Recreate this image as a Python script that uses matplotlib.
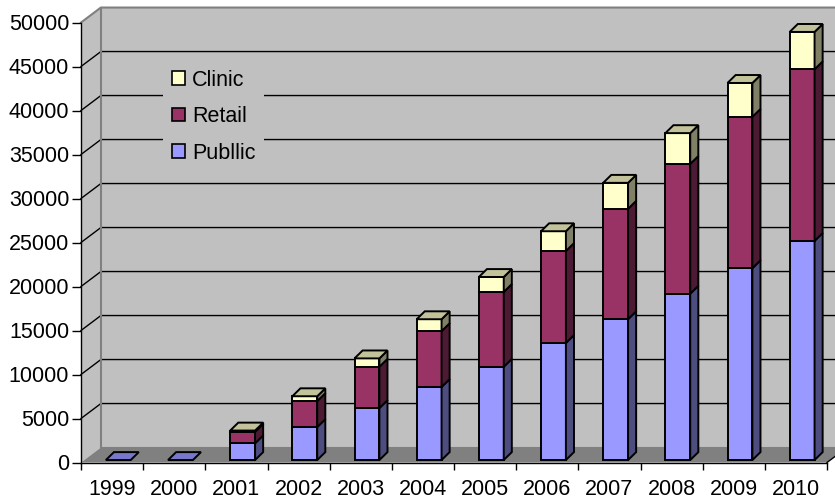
import matplotlib
matplotlib.use("Agg")
import matplotlib.pyplot as plt
from matplotlib.patches import Polygon, Patch

years = ["1999", "2000", "2001", "2002", "2003", "2004",
         "2005", "2006", "2007", "2008", "2009", "2010"]
public = [0, 0, 1900, 3750, 5900, 8300, 10600, 13300, 16000, 18900, 21800, 24900]
retail = [0, 0, 1300, 2950, 4700, 6350, 8500, 10450, 12550, 14750, 17200, 19500]
clinic = [0, 0, 150, 550, 950, 1350, 1700, 2250, 2950, 3500, 3850, 4250]
series_names = ["Publlic", "Retail", "Clinic"]
y_ticks = list(range(0, 50001, 5000))

front_colors = ["#9999FF", "#993366", "#FFFFCC"]
side_colors = ["#4D4D80", "#4D1A33", "#808066"]
top_colors = ["#7777CC", "#7A2952", "#C2C29B"]

# oblique offsets (x in category units, y in value units)
WALL_DX, WALL_DY = 0.32, 1700
BAR_SHIFT, BAR_HALF, BAR_BASE = 0.1, 0.2, 280
BAR_DX, BAR_DY = 0.13, 900
YMAX = 50000

plt.rcParams["font.family"] = ["Liberation Sans", "DejaVu Sans"]
FS = 15.5


def poly(ax, pts, fc, ec="black", lw=1.4, z=3):
    p = Polygon(pts, closed=True, facecolor=fc, edgecolor=ec, linewidth=lw,
                joinstyle="miter", zorder=z, clip_on=False)
    ax.add_patch(p)


def draw_walls(ax):
    x0, x1 = -0.5, len(years) - 0.5
    dx, dy = WALL_DX, WALL_DY
    # back wall, side wall, floor
    poly(ax, [(x0 + dx, dy), (x1 + dx, dy), (x1 + dx, YMAX + dy), (x0 + dx, YMAX + dy)],
         "#C0C0C0", ec="none", z=0)
    poly(ax, [(x0, 0), (x0 + dx, dy), (x0 + dx, YMAX + dy), (x0, YMAX)],
         "#C0C0C0", ec="none", z=0)
    poly(ax, [(x0, 0), (x1, 0), (x1 + dx, dy), (x0 + dx, dy)], "#808080", ec="none", z=0.5)

    for v in y_ticks[1:-1]:
        ax.plot([x0, x0 + dx, x1 + dx], [v, v + dy, v + dy], color="black",
                lw=1.0, zorder=1, clip_on=False)
    # wall frame
    ax.plot([x0, x0 + dx, x1 + dx], [YMAX, YMAX + dy, YMAX + dy], color="#808080",
            lw=1.5, zorder=1, clip_on=False)
    ax.plot([x0 + dx, x0 + dx, x1 + dx], [YMAX + dy, dy, dy], color="#808080",
            lw=1.5, zorder=1, clip_on=False)
    ax.plot([x1, x1 + dx], [0, dy], color="black", lw=1.0, zorder=1, clip_on=False)


def draw_bar(ax, i, segments):
    x0 = i + BAR_SHIFT - BAR_HALF
    x1 = i + BAR_SHIFT + BAR_HALF
    bottom = BAR_BASE
    top_k = 0
    for k, h in enumerate(segments):
        top = bottom + h
        if h > 0:
            poly(ax, [(x0, bottom), (x1, bottom), (x1, top), (x0, top)], front_colors[k])
            poly(ax, [(x1, bottom), (x1 + BAR_DX, bottom + BAR_DY),
                      (x1 + BAR_DX, top + BAR_DY), (x1, top)], side_colors[k])
            top_k = k
        bottom = top
    poly(ax, [(x0, bottom), (x1, bottom), (x1 + BAR_DX, bottom + BAR_DY),
              (x0 + BAR_DX, bottom + BAR_DY)], top_colors[top_k])


fig = plt.figure(figsize=(8.35, 5.01), dpi=100)
ax = fig.add_axes([81 / 835, 38.5 / 501, 746 / 835, 440 / 501])
ax.set_facecolor("none")
ax.set_xlim(-0.5, len(years) - 0.5)
ax.set_ylim(0, YMAX)

draw_walls(ax)
for i in range(len(years)):
    draw_bar(ax, i, [public[i], retail[i], clinic[i]])

ax.set_yticks(y_ticks)
ax.set_yticklabels([str(v) for v in y_ticks], fontsize=FS)
ax.set_xticks(range(len(years)))
ax.set_xticklabels(years, fontsize=FS)
ax.set_xticks([i - 0.5 for i in range(len(years) + 1)], minor=True)
ax.tick_params(axis="y", length=6.5, width=1, pad=2, colors="black")
ax.tick_params(axis="x", which="major", length=0, pad=12)
ax.tick_params(axis="x", which="minor", length=5, width=1)
for side in ["top", "right"]:
    ax.spines[side].set_visible(False)
for side in ["left", "bottom"]:
    ax.spines[side].set_color("black")
    ax.spines[side].set_linewidth(1.0)
    ax.spines[side].set_zorder(2)

handles = [Patch(facecolor=front_colors[k], edgecolor="black", linewidth=1.2)
           for k in (2, 1, 0)]
labels = [series_names[k] for k in (2, 1, 0)]
leg = ax.legend(handles, labels, loc="upper left",
                bbox_to_anchor=(163 / 835, 1 - 61 / 501), bbox_transform=fig.transFigure,
                borderaxespad=0, fontsize=FS, frameon=True, fancybox=False,
                facecolor="#C0C0C0", edgecolor="none", framealpha=1,
                handlelength=0.6, handleheight=0.6, handletextpad=0.35,
                labelspacing=0.72, borderpad=0.4)
leg.set_zorder(5)

fig.savefig("out.png", dpi=100, facecolor="white")
